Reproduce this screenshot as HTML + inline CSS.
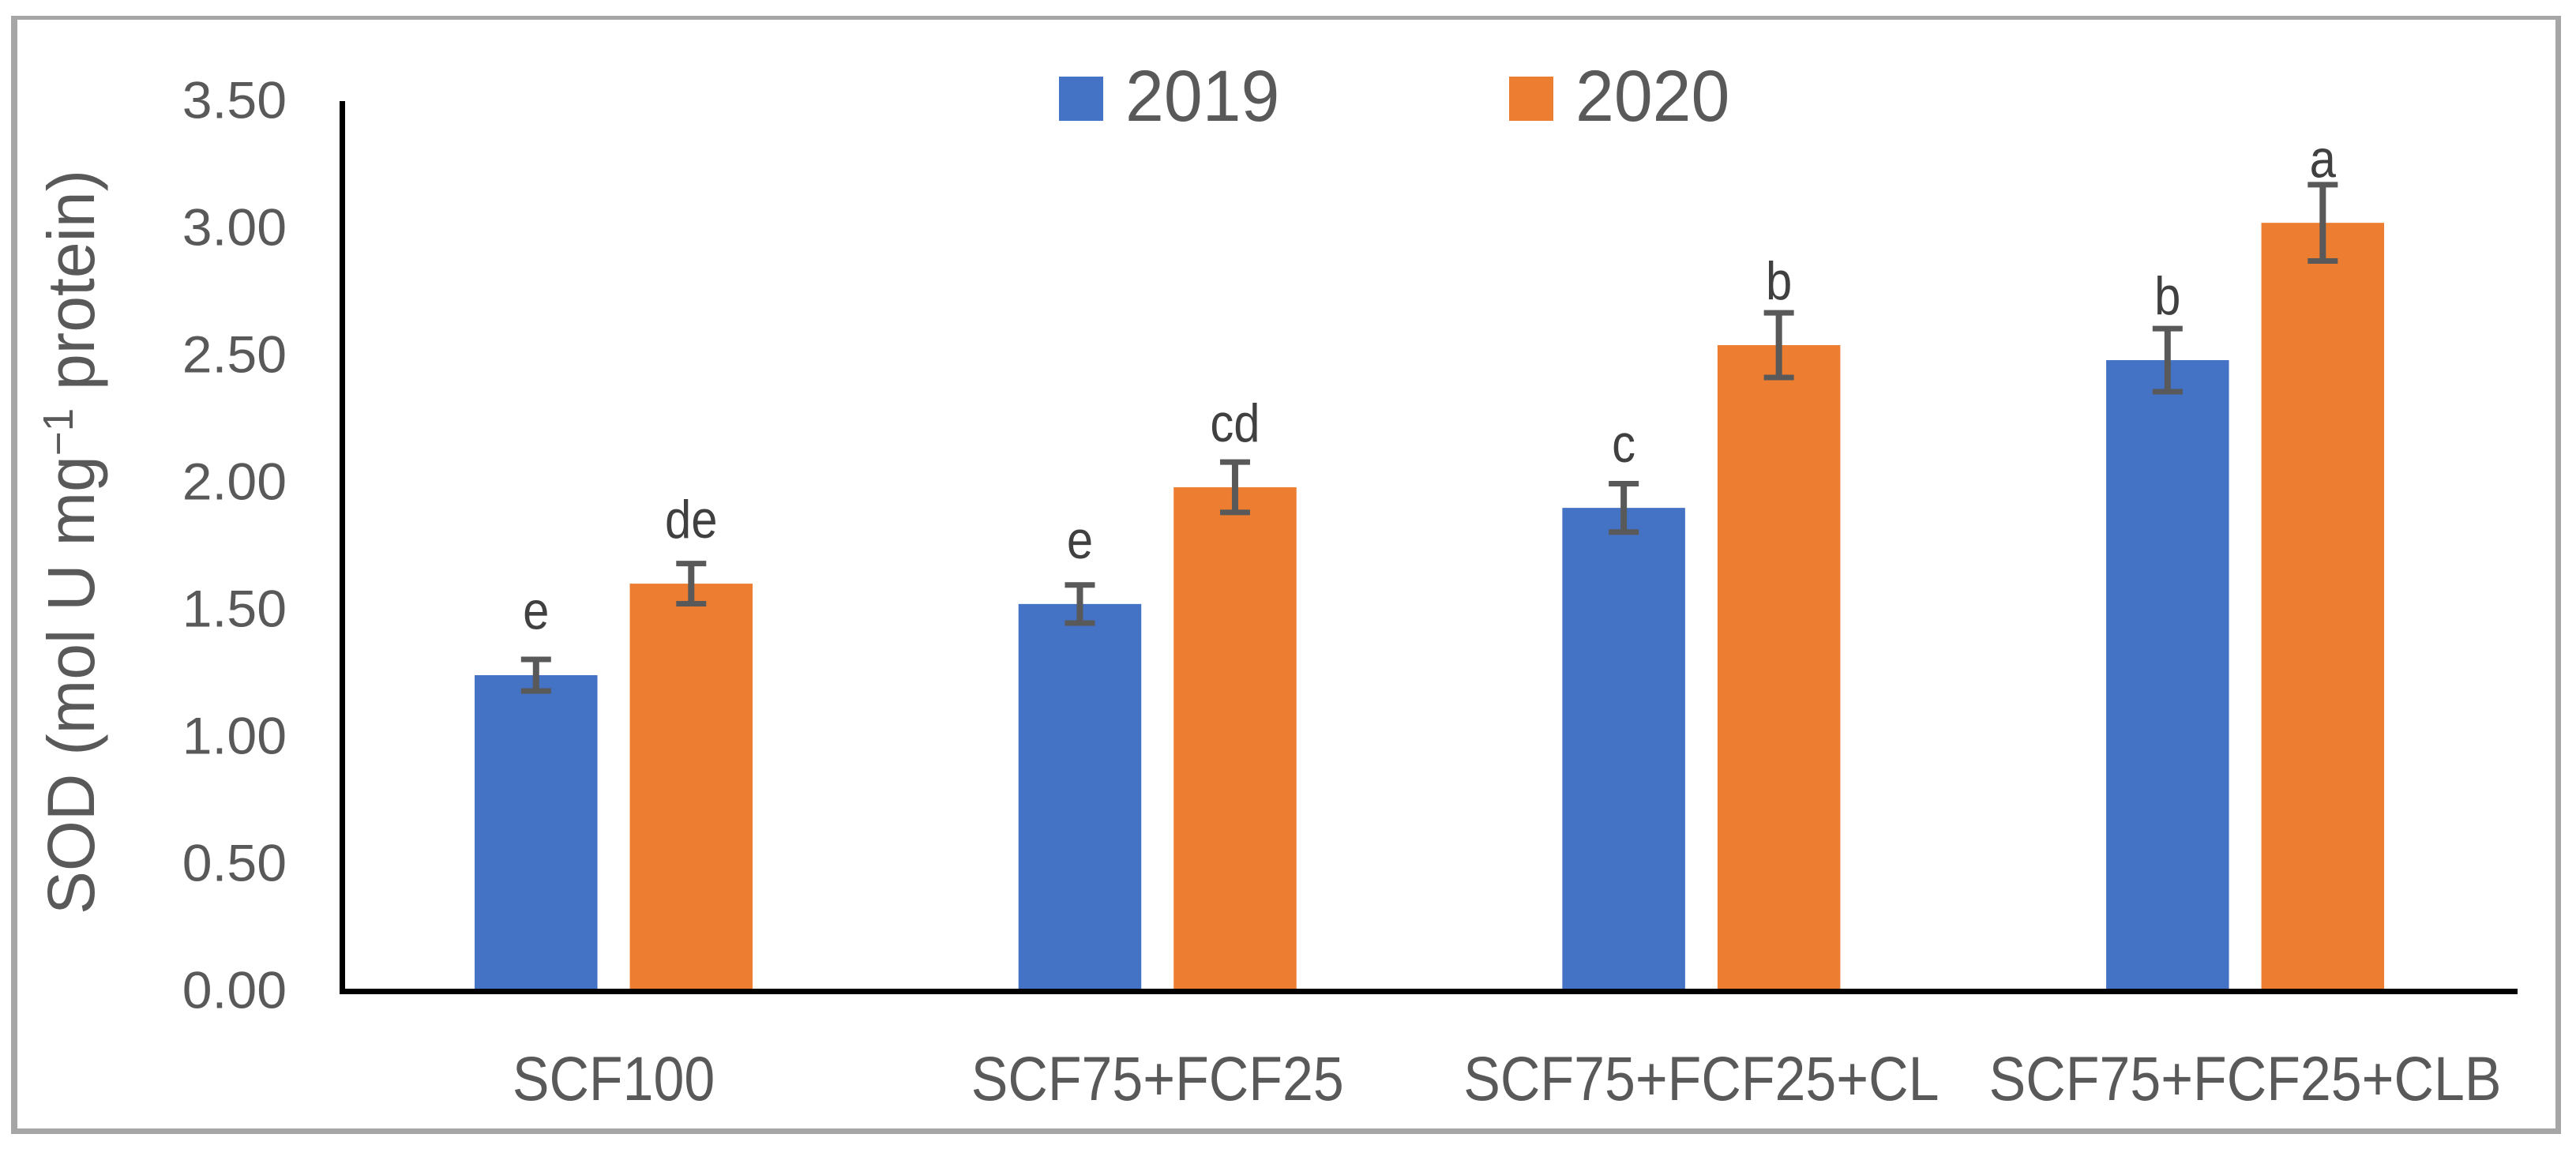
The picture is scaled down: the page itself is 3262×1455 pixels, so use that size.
<!DOCTYPE html>
<html lang="en">
<head>
<meta charset="utf-8">
<title>SOD chart</title>
<style>
html,body{margin:0;padding:0;background:#fff;width:3262px;height:1455px;overflow:hidden}
svg{display:block}
text{font-family:"Liberation Sans",sans-serif}
</style>
</head>
<body>
<svg id="chart" xmlns="http://www.w3.org/2000/svg" width="3262" height="1455" viewBox="0 0 3262 1455">
  <rect x="0" y="0" width="3262" height="1455" fill="#ffffff"/>
  <g fill="#a6a6a6">
    <rect x="14" y="20" width="3229" height="5"/>
    <rect x="14" y="1429" width="3229" height="7"/>
    <rect x="14" y="20" width="8" height="1416"/>
    <rect x="3236" y="20" width="7" height="1416"/>
  </g>
  <g id="marks"></g>
  <rect x="430" y="128" width="7" height="1131" fill="#000000"/>
  <rect x="430" y="1252" width="2758" height="7" fill="#000000"/>
  <g id="ticks"></g>
  <text transform="translate(119,1158) rotate(-90) scale(0.98,1)" font-size="84" fill="#595959">SOD (mol U mg<tspan font-size="54" dy="-27">−1</tspan><tspan dy="27"> protein)</tspan></text>
  <g>
    <g>
      <rect x="1341" y="97" width="56" height="56" fill="#4472c4"/>
      <text transform="translate(1425,153) scale(0.96,1)" font-size="91.5" fill="#595959">2019</text>
    </g>
    <g>
      <rect x="1911" y="97" width="56" height="56" fill="#ed7d31"/>
      <text transform="translate(1995,153) scale(0.96,1)" font-size="91.5" fill="#595959">2020</text>
    </g>
  </g>
</svg>
<script>
const categories = ["SCF100", "SCF75+FCF25", "SCF75+FCF25+CL", "SCF75+FCF25+CLB"];
const yTickLabels = ["0.00", "0.50", "1.00", "1.50", "2.00", "2.50", "3.00", "3.50"];
const values2019 = [1.236, 1.516, 1.894, 2.475];
const values2020 = [1.596, 1.975, 2.534, 3.015];
const errors2019 = [0.062, 0.075, 0.095, 0.124];
const errors2020 = [0.079, 0.099, 0.127, 0.150];
const letters2019 = ["e", "e", "c", "b"];
const letters2020 = ["de", "cd", "b", "a"];

const NS = "http://www.w3.org/2000/svg";
const marks = document.getElementById("marks");
const ticks = document.getElementById("ticks");

const plotLeft = 432.7;
const plotRight = 3187.4;
const zeroY = 1253;
const pxPerUnit = 322;
const barWidth = 155.5;
const barGap = 41;

function yScale(v) { return zeroY - v * pxPerUnit; }
function bandCenter(i) { return plotLeft + (plotRight - plotLeft) * (i + 0.5) / categories.length; }
function barX(i, s) { return bandCenter(i) + (s === 0 ? -(barGap / 2 + barWidth) : barGap / 2); }

function make(tag, attrs, parent) {
  const el = document.createElementNS(NS, tag);
  Object.keys(attrs).forEach(function (k) { el.setAttribute(k, attrs[k]); });
  parent.appendChild(el);
  return el;
}

yTickLabels.forEach(function (label) {
  const t = make("text", { transform: "translate(363," + (yScale(parseFloat(label)) + 23.5) + ") scale(1.03,1)", "text-anchor": "end", "font-size": 66, fill: "#595959" }, ticks);
  t.textContent = label;
  
  
});

categories.forEach(function (name, i) {
  const t = make("text", { transform: "translate(" + bandCenter(i) + ",1393) scale(0.885,1)", "text-anchor": "middle", "font-size": 79, fill: "#595959" }, ticks);
  t.textContent = name;
  
  
});

function drawSeries(year, s, values, errors, letters, color) {
  values.forEach(function (v, i) {
    const x = barX(i, s);
    const top = yScale(v);
    const bar = make("rect", { x: x, y: top, width: barWidth, height: zeroY - top, fill: color }, marks);
    
    
  });
  values.forEach(function (v, i) {
    const cx = barX(i, s) + barWidth / 2;
    const hiVal = v + errors[i];
    const hi = yScale(hiVal);
    const lo = yScale(v - errors[i]);
    const stem = make("path", {
      d: "M" + cx + " " + hi + "V" + lo,
      stroke: "#595959", "stroke-width": 8, fill: "none"
    }, marks);
    
    
    const caps = make("path", {
      d: "M" + (cx - 19) + " " + hi + "H" + (cx + 19) + "M" + (cx - 19) + " " + lo + "H" + (cx + 19),
      stroke: "#595959", "stroke-width": 7, fill: "none"
    }, marks);
    
    

    const clearance = 55 - 15.5 * hiVal;
    const label = make("text", {
      transform: "translate(" + cx + "," + (hi - 3.5 - clearance) + ") scale(0.88,1)",
      "text-anchor": "middle", "font-size": 68, fill: "#404040"
    }, marks);
    label.textContent = letters[i];
    
    
  });
}

drawSeries("2019", 0, values2019, errors2019, letters2019, "#4472c4");
drawSeries("2020", 1, values2020, errors2020, letters2020, "#ed7d31");
</script>
</body>
</html>
